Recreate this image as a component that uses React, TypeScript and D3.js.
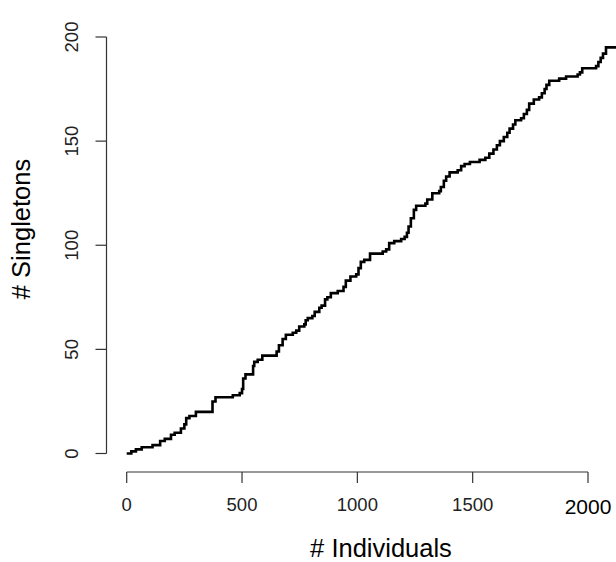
import React from "react";
import * as d3 from "d3";

const individuals = [
  0, 20, 40, 65, 112, 145, 165, 192, 208, 235, 250, 258, 272, 300, 372, 385, 460, 490, 500, 505,
  515, 548, 553, 568, 588, 650, 660, 676, 690, 720, 735, 748, 770, 776, 785, 805, 815, 835, 845, 860,
  870, 885, 915, 940, 950, 970, 995, 1005, 1015, 1030, 1055, 1110, 1125, 1138, 1160, 1190, 1205, 1215, 1222, 1232,
  1245, 1255, 1295, 1303, 1325, 1355, 1362, 1375, 1385, 1400, 1435, 1450, 1465, 1488, 1530, 1555, 1572, 1590, 1605, 1618,
  1635, 1650, 1660, 1675, 1685, 1710, 1722, 1735, 1745, 1765, 1788, 1800, 1812, 1820, 1832, 1875, 1905, 1955, 1965, 1975,
  2035, 2045, 2055, 2065, 2078, 2130,
];
const singletons = [
  0, 1, 2, 3, 4, 6, 7, 9, 10, 12, 14, 17, 18, 20, 25, 27, 28, 29, 31, 36,
  38, 42, 44, 45, 47, 49, 52, 55, 57, 58, 59, 61, 62, 64, 65, 66, 68, 70, 71, 74,
  75, 77, 78, 80, 83, 85, 86, 89, 92, 93, 96, 97, 98, 101, 102, 103, 104, 106, 109, 113,
  117, 119, 120, 122, 125, 126, 128, 131, 133, 135, 136, 138, 139, 140, 141, 142, 144, 146, 148, 150,
  152, 154, 156, 158, 160, 161, 163, 165, 168, 170, 171, 173, 175, 177, 179, 180, 181, 182, 183, 185,
  186, 188, 190, 192, 195, 195,
];
const xTicks = [0, 500, 1000, 1500, 2000];
const yTicks = [0, 50, 100, 150, 200];
const xTitle = "# Individuals";
const yTitle = "# Singletons";

const W = 616;
const H = 562;
const FONT = "'Liberation Sans', Arial, Helvetica, sans-serif";

export default function App() {
  const x = d3.scaleLinear().domain([0, 2000]).range([126.7, 588]);
  const y = d3.scaleLinear().domain([0, 200]).range([453.5, 37]);
  const pts: [number, number][] = individuals.map((v, i) => [v, singletons[i]]);
  const line = d3
    .line<[number, number]>()
    .x((d) => x(d[0]))
    .y((d) => y(d[1]))
    .curve(d3.curveStepAfter);
  const axisY = 472;
  const axisX = 106.5;
  const tick = 11;
  const axisColor = "#333";
  return (
    <svg
      width={W}
      height={H}
      style={{ position: "absolute", left: 0, top: 0, background: "#fff" }}
      fontFamily={FONT}
    >
      <rect x={0} y={0} width={W} height={H} fill="#fff" />
      <path d={line(pts) || ""} fill="none" stroke="#000" strokeWidth={2.6} strokeLinejoin="miter" />
      {/* x axis */}
      <line x1={x(xTicks[0])} x2={x(xTicks[xTicks.length - 1])} y1={axisY} y2={axisY} stroke={axisColor} strokeWidth={1.2} />
      {xTicks.map((t, i) => {
        const last = i === xTicks.length - 1;
        return (
          <g key={t}>
            <line x1={x(t)} x2={x(t)} y1={axisY} y2={axisY + tick} stroke={axisColor} strokeWidth={1.2} />
            <text
              x={x(t)}
              y={last ? 514.3 : 510.7}
              textAnchor="middle"
              fontSize={last ? 21 : 18.5}
              fill={last ? "#000" : "#222"}
            >
              {t}
            </text>
          </g>
        );
      })}
      {/* y axis */}
      <line x1={axisX} x2={axisX} y1={y(yTicks[0])} y2={y(yTicks[yTicks.length - 1])} stroke={axisColor} strokeWidth={1.2} />
      {yTicks.map((t) => (
        <g key={t}>
          <line x1={axisX - tick} x2={axisX} y1={y(t)} y2={y(t)} stroke={axisColor} strokeWidth={1.2} />
          <text
            transform={`translate(${78},${y(t)}) rotate(-90)`}
            textAnchor="middle"
            fontSize={18.5}
            fill="#222"
          >
            {t}
          </text>
        </g>
      ))}
      <text x={381} y={557} textAnchor="middle" fontSize={25.5} fill="#000">
        {xTitle}
      </text>
      <text transform={`translate(${30},${229}) rotate(-90)`} textAnchor="middle" fontSize={25.5} fill="#000">
        {yTitle}
      </text>
    </svg>
  );
}
